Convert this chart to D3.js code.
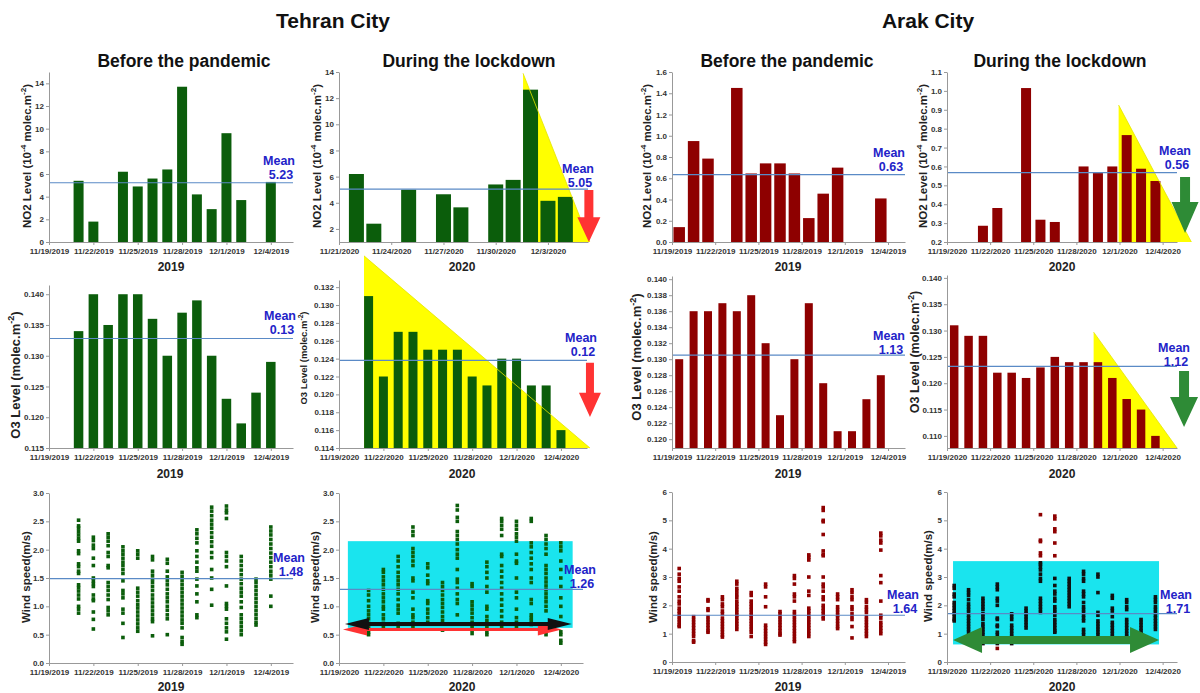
<!DOCTYPE html>
<html>
<head>
<meta charset="utf-8">
<script src="https://cdn.jsdelivr.net/npm/d3@7"></script>
<style>
  body { margin: 0; background: #fff; }
  svg { font-family: "Liberation Sans", Arial, sans-serif; font-weight: bold; }
</style>
</head>
<body>
<script>
// ---- tick labels ----
var dates19 = ["11/19/2019", "11/22/2019", "11/25/2019", "11/28/2019", "12/1/2019", "12/4/2019"];
var dates20 = ["11/19/2020", "11/22/2020", "11/25/2020", "11/28/2020", "12/1/2020", "12/4/2020"];
var dates20b = ["11/21/2020", "11/24/2020", "11/27/2020", "11/30/2020", "12/3/2020"];

var ticksNo2Teh19 = [0, 2, 4, 6, 8, 10, 12, 14];
var ticksNo2Teh20 = [2, 4, 6, 8, 10, 12, 14];
var ticksNo2Ark19 = [0, 0.2, 0.4, 0.6, 0.8, 1.0, 1.2, 1.4, 1.6];
var ticksNo2Ark20 = [0.2, 0.3, 0.4, 0.5, 0.6, 0.7, 0.8, 0.9, 1.0, 1.1];
var ticksO3Teh19 = [0.115, 0.120, 0.125, 0.130, 0.135, 0.140];
var ticksO3Teh20 = [0.114, 0.116, 0.118, 0.120, 0.122, 0.124, 0.126, 0.128, 0.130, 0.132];
var ticksO3Ark19 = [0.120, 0.122, 0.124, 0.126, 0.128, 0.130, 0.132, 0.134, 0.136, 0.138, 0.140];
var ticksO3Ark20 = [0.110, 0.115, 0.120, 0.125, 0.130, 0.135, 0.140];
var ticksWindTeh = [0, 0.5, 1.0, 1.5, 2.0, 2.5, 3.0];
var ticksWindArk = [0, 1, 2, 3, 4, 5, 6];

// ---- bar values, one slot per day (null = no data) ----
var no2Teh19 = [null, null, 5.4, 1.8, null, 6.2, 4.9, 5.6, 6.4, 13.7, 4.2, 2.9, 9.6, 3.7, null, 5.3];
var no2Teh20 = [null, 6.2, 2.4, null, 5.0, null, 4.65, 3.65, null, 5.4, 5.75, 12.65, 4.15, 4.45];
var no2Ark19 = [0.14, 0.95, 0.785, null, 1.45, 0.645, 0.74, 0.74, 0.645, 0.225, 0.455, 0.70, null, null, 0.41];
var no2Ark20 = [null, null, 0.286, 0.38, null, 1.015, 0.318, 0.306, null, 0.60, 0.565, 0.60, 0.766, 0.588, 0.523];
var o3Teh19 = [null, null, 0.134, 0.140, 0.135, 0.140, 0.140, 0.136, 0.130, 0.137, 0.139, 0.130, 0.123, 0.119, 0.124, 0.129];
var o3Teh20 = [null, null, 0.131, 0.122, 0.127, 0.127, 0.125, 0.125, 0.125, 0.122, 0.121, 0.124, 0.124, 0.121, 0.121, 0.116];
var o3Ark19 = [0.130, 0.136, 0.136, 0.137, 0.136, 0.138, 0.132, 0.123, 0.130, 0.137, 0.127, 0.121, 0.121, 0.125, 0.128];
var o3Ark20 = [0.131, 0.129, 0.129, 0.122, 0.122, 0.121, 0.123, 0.125, 0.124, 0.124, 0.124, 0.121, 0.117, 0.115, 0.110];

// ---- wind speed readings per day ----
var windDaysTeh = [2, 3, 4, 5, 6, 7, 8, 9, 10, 11, 12, 13, 14, 15];
var windDaysArk = [0.5, 1.5, 2.5, 3.5, 4.5, 5.5, 6.5, 7.5, 8.5, 9.5, 10.5, 11.5, 12.5, 13.5, 14.5];

var windTeh19 = [
  [2.52, 2.42, 2.38, 2.32, 2.26, 2.2, 2.15, 1.98, 1.93, 1.75, 1.7, 1.62, 1.58, 1.38, 1.33, 1.27, 1.2, 1.13, 1.0, 0.95, 0.88],
  [2.22, 2.16, 2.08, 2.02, 1.85, 1.72, 1.5, 1.45, 1.4, 1.35, 1.2, 1.13, 1.1, 0.9, 0.77, 0.6],
  [2.28, 2.22, 2.15, 2.07, 1.95, 1.88, 1.72, 1.68, 1.42, 1.35, 1.28, 1.2, 1.12, 0.98, 0.92, 0.85],
  [2.05, 1.98, 1.92, 1.85, 1.78, 1.72, 1.65, 1.58, 1.45, 1.28, 1.22, 1.15, 0.95, 0.88, 0.7, 0.45],
  [1.98, 1.92, 1.85, 1.32, 1.25, 1.18, 1.1, 1.03, 0.97, 0.9, 0.83, 0.76, 0.69, 0.62, 0.56],
  [1.88, 1.82, 1.62, 1.55, 1.48, 1.42, 1.35, 1.28, 1.2, 1.13, 1.06, 0.99, 0.92, 0.85, 0.78, 0.73, 0.48],
  [1.83, 1.76, 1.62, 1.52, 1.45, 1.38, 1.3, 1.22, 1.15, 1.08, 1.0, 0.93, 0.85, 0.78, 0.5],
  [1.6, 1.53, 1.46, 1.39, 1.32, 1.25, 1.18, 1.11, 1.04, 0.97, 0.9, 0.83, 0.76, 0.7, 0.62, 0.45, 0.38, 0.33],
  [2.35, 2.28, 2.2, 2.12, 1.98, 1.88, 1.78, 1.68, 1.62, 1.48, 1.36, 1.22, 1.08, 0.85, 0.8],
  [2.75, 2.68, 2.6, 2.52, 2.45, 2.38, 2.3, 2.22, 2.14, 2.06, 1.95, 1.86, 1.65, 1.5, 1.3, 1.02],
  [2.77, 2.7, 2.65, 2.55, 1.95, 1.88, 1.8, 1.7, 1.36, 1.05, 1.0, 0.95, 0.78, 0.7, 0.62, 0.55, 0.42],
  [1.88, 1.8, 1.72, 1.64, 1.56, 1.48, 1.4, 1.32, 1.25, 1.18, 1.08, 0.98, 0.85, 0.78, 0.71, 0.64, 0.57, 0.5],
  [1.48, 1.42, 1.35, 1.28, 1.21, 1.14, 1.07, 1.0, 0.93, 0.86, 0.79, 0.72, 0.67],
  [2.4, 2.33, 2.26, 2.18, 2.1, 2.02, 1.94, 1.86, 1.78, 1.7, 1.62, 1.55, 1.48, 1.18, 1.0]
];
var windTeh20 = [
  [1.28, 1.2, 1.1, 1.0, 0.92, 0.85, 0.78, 0.7, 0.62, 0.55, 0.5],
  [1.65, 1.6, 1.52, 1.45, 1.38, 1.3, 1.22, 1.15, 1.08, 1.0, 0.95, 0.85, 0.78, 0.7, 0.65],
  [1.88, 1.8, 1.7, 1.6, 1.52, 1.45, 1.38, 1.3, 1.22, 1.12, 1.02, 0.95, 0.88, 0.7, 0.65],
  [2.4, 2.32, 2.25, 2.02, 1.95, 1.88, 1.8, 1.72, 1.5, 1.45, 1.25, 1.15, 0.95, 0.85, 0.8, 0.72, 0.65],
  [1.75, 1.68, 1.55, 1.45, 1.4, 1.1, 1.05, 0.95, 0.88, 0.8, 0.72],
  [1.42, 1.35, 1.28, 1.2, 1.12, 1.05, 0.98, 0.9, 0.82, 0.75, 0.58],
  [2.78, 2.7, 2.57, 2.5, 2.32, 2.25, 2.18, 2.1, 2.0, 1.92, 1.85, 1.65, 1.48, 1.42, 1.32, 1.22, 1.12, 1.05, 0.85],
  [1.4, 1.35, 1.08, 1.02, 0.95, 0.88, 0.8, 0.72, 0.65, 0.58, 0.52],
  [1.78, 1.7, 1.6, 1.5, 1.35, 1.25, 1.0, 0.95, 0.82, 0.75, 0.68, 0.62, 0.55, 0.5],
  [2.55, 2.5, 2.43, 2.36, 2.25, 1.92, 1.88, 1.72, 1.62, 1.52, 1.42, 1.32, 1.22, 1.12, 1.02, 0.92, 0.82, 0.72, 0.65],
  [2.5, 2.43, 2.36, 2.28, 2.22, 2.15, 1.92, 1.8, 1.76, 1.5, 1.25, 1.15, 0.95, 0.8, 0.72, 0.65],
  [2.55, 2.5, 2.12, 2.05, 1.95, 1.85, 1.75, 1.65, 1.5, 1.42, 1.12, 1.05, 0.85, 0.8, 0.75, 0.68],
  [2.25, 2.18, 2.1, 2.02, 1.92, 1.72, 1.65, 1.58, 1.5, 1.43, 1.36, 1.29, 1.22, 1.15, 1.08, 1.0, 0.92, 0.5],
  [2.12, 2.05, 1.98, 1.8, 1.65, 1.5, 1.35, 1.15, 1.0, 0.82, 0.55, 0.5, 0.4, 0.35]
];
var windArk19 = [
  [3.3, 3.1, 2.95, 2.85, 2.65, 2.5, 2.3, 2.15, 2.05, 1.9, 1.8, 1.7, 1.6, 1.5, 1.4, 1.3, 1.25],
  [1.6, 1.5, 1.4, 1.3, 1.2, 1.1, 1.0, 0.9, 0.75, 0.7],
  [2.2, 2.15, 1.88, 1.82, 1.6, 1.5, 1.4, 1.3, 1.2, 1.1, 1.05],
  [2.3, 2.2, 2.05, 1.95, 1.8, 1.7, 1.55, 1.45, 1.35, 1.25, 1.15, 1.05, 0.95, 0.88],
  [2.85, 2.75, 2.6, 2.5, 2.38, 2.28, 2.15, 2.05, 1.95, 1.85, 1.75, 1.65, 1.55, 1.45, 1.35, 1.25, 1.15],
  [2.45, 2.35, 2.15, 2.05, 1.95, 1.85, 1.75, 1.65, 1.55, 1.45, 1.35, 1.25, 1.15, 1.05, 0.9],
  [2.75, 2.65, 2.3, 1.95, 1.3, 1.2, 1.1, 1.0, 0.9, 0.8, 0.7, 0.62],
  [1.78, 1.7, 1.6, 1.5, 1.4, 1.3, 1.2, 1.1, 1.0, 0.95],
  [3.05, 2.95, 2.75, 2.4, 2.3, 2.15, 1.78, 1.68, 1.6, 1.5, 1.4, 1.3, 1.2, 1.1, 1.0, 0.9, 0.8, 0.72],
  [3.78, 3.7, 3.6, 3.0, 2.5, 2.35, 1.9, 1.8, 1.7, 1.6, 1.5, 1.4, 1.3, 1.2, 1.1, 1.0, 0.9],
  [5.45, 5.35, 5.0, 4.95, 4.5, 3.92, 3.8, 3.75, 3.0, 2.75, 2.65, 2.5, 2.3, 2.2, 2.0, 1.9, 1.8, 1.7, 1.6, 1.52],
  [2.4, 2.3, 2.2, 1.95, 1.85, 1.75, 1.65, 1.55, 1.45, 1.35, 1.25, 1.18],
  [2.55, 2.45, 2.3, 2.2, 1.95, 1.85, 1.7, 1.6, 1.5, 1.25, 0.85],
  [2.2, 2.1, 1.95, 1.85, 1.75, 1.6, 1.5, 1.4, 1.3, 1.2, 1.1, 1.0, 0.9],
  [4.55, 4.45, 4.3, 4.2, 3.95, 3.05, 2.8, 2.15, 1.65, 1.55, 1.4, 1.3, 1.2, 1.1, 1.0]
];
var windArk20 = [
  [2.7, 2.6, 2.4, 2.3, 2.1, 2.0, 1.9, 1.8, 1.7, 1.6, 1.5, 1.45],
  [2.55, 2.45, 2.35, 2.2, 2.05, 1.95, 1.85, 1.75, 1.65, 1.55, 1.45, 1.35, 1.25, 1.15, 1.05],
  [2.25, 2.15, 2.05, 1.95, 1.85, 1.7, 1.6, 1.5, 1.35, 1.25, 1.15, 1.05, 0.95, 0.85, 0.75, 0.65],
  [2.75, 2.65, 2.55, 2.25, 2.15, 2.0, 1.55, 1.5, 1.3, 1.25, 1.05, 0.95, 0.85, 0.75, 0.65, 0.48],
  [1.7, 1.6, 1.5, 1.3, 1.2, 1.1, 1.0, 0.9, 0.8, 0.7, 0.65],
  [1.9, 1.8, 1.7, 1.6, 1.5, 1.4, 1.3, 1.2],
  [5.2, 4.3, 4.25, 3.85, 3.75, 3.5, 3.45, 3.35, 3.25, 3.1, 2.95, 2.85, 2.25, 2.15, 2.05, 1.95, 1.85, 1.75],
  [5.15, 5.05, 4.7, 4.6, 4.2, 3.75, 2.95, 2.7, 2.5, 2.4, 2.25, 2.15, 1.95, 1.85, 1.75, 1.65, 1.5, 1.4, 1.3, 1.2, 1.1, 1.05],
  [2.95, 2.85, 2.75, 2.65, 2.55, 2.45, 2.35, 2.25, 2.15, 2.05, 1.95],
  [3.2, 3.1, 2.95, 2.85, 2.5, 2.4, 2.3, 2.1, 1.95, 1.85, 1.75, 1.65, 1.55, 1.45, 1.15, 1.05, 0.95, 0.85],
  [3.1, 3.0, 2.45, 1.75, 1.65, 1.45, 1.35, 1.25, 1.15, 1.05, 0.95],
  [2.35, 2.25, 1.9, 1.8, 1.6, 1.4, 1.3, 1.2, 1.1, 1.0, 0.9],
  [2.2, 2.1, 1.95, 1.85, 1.5, 1.4, 1.3, 1.2, 1.1, 1.0, 0.9],
  [1.5, 1.4, 1.3, 1.2, 1.1, 1.0, 0.9, 0.8, 0.7],
  [2.3, 2.2, 2.1, 1.95, 1.85, 1.75, 1.65, 1.55, 1.45, 1.35, 1.25, 1.15]
];

// ---- means (line level and printed label) ----
var meanLevels = [5.23, 5.05, 0.634, 0.567, 0.1328, 0.1238, 0.1305, 0.1232, 1.49, 1.3, 1.65, 1.71];
var meanLabels = ["5.23", "5.05", "0.63", "0.56", "0.13", "0.12", "1.13", "1.12", "1.48", "1.26", "1.64", "1.71"];

var GREEN = "#0b5d0b", DARKRED = "#8e0000", MEANLINE = "#5a8ac6", MEANTEXT = "#2323c8";
var YELLOW = "#ffff00", CYAN = "#1ae4ee";

var svg = d3.select("body").append("svg").attr("width", 1200).attr("height", 693);
svg.append("rect").attr("width", 1200).attr("height", 693).attr("fill", "#fff");

function downArrow(cx, yt, yh, yp, s, h) {
  return "M" + (cx - s / 2) + "," + yt + "L" + (cx + s / 2) + "," + yt + "L" + (cx + s / 2) + "," + yh +
    "L" + (cx + h / 2) + "," + yh + "L" + cx + "," + yp + "L" + (cx - h / 2) + "," + yh +
    "L" + (cx - s / 2) + "," + yh + "Z";
}
function doubleArrow(xa, xb, yc, s, L, H) {
  return "M" + xa + "," + yc + "L" + (xa + L) + "," + (yc - H) + "L" + (xa + L) + "," + (yc - s / 2) +
    "L" + (xb - L) + "," + (yc - s / 2) + "L" + (xb - L) + "," + (yc - H) + "L" + xb + "," + yc +
    "L" + (xb - L) + "," + (yc + H) + "L" + (xb - L) + "," + (yc + s / 2) + "L" + (xa + L) + "," + (yc + s / 2) +
    "L" + (xa + L) + "," + (yc + H) + "Z";
}

function yTitle(kind, x, y, size) {
  var t = svg.append("text").attr("transform", "translate(" + x + "," + y + ") rotate(-90)")
    .attr("text-anchor", "middle").attr("font-size", size).attr("fill", "#222");
  if (kind == "wind") { t.text("Wind speed(m/s)"); return; }
  if (kind == "no2") {
    t.append("tspan").text("NO2 Level (10");
    t.append("tspan").attr("dy", -size * 0.4).attr("font-size", size * 0.7).text("-4");
    t.append("tspan").attr("dy", size * 0.4).text(" molec.m");
  } else {
    t.append("tspan").text("O3 Level (molec.m");
  }
  t.append("tspan").attr("dy", -size * 0.4).attr("font-size", size * 0.7).text("-2");
  t.append("tspan").attr("dy", size * 0.4).text(")");
}

function drawPanel(p, idx) {
  var x = d3.scaleLinear().domain([0, p.days]).range([p.left, p.right]);
  var y = d3.scaleLinear().domain(p.yDomain).range([p.bottom, p.top]);
  var g = svg.append("g");

  if (p.band) {
    g.append("rect").attr("x", x(p.band.x0)).attr("width", x(p.band.x1) - x(p.band.x0))
      .attr("y", y(p.band.hi)).attr("height", y(p.band.lo) - y(p.band.hi)).attr("fill", CYAN);
  }
  if (p.tri) {
    g.append("path").attr("d", d3.line()(p.tri.map(function (d) { return [x(d[0]), y(d[1])]; })) + "Z")
      .attr("fill", YELLOW);
  }

  if (p.bars) {
    var bars = p.bars.map(function (v, i) { return { day: i + p.offset, v: v }; })
      .filter(function (d) { return d.v != null; });
    g.selectAll(null).data(bars).enter().append("rect")
      .attr("x", function (d) { return x(d.day) - p.barW / 2; })
      .attr("width", p.barW)
      .attr("y", function (d) { return y(d.v); })
      .attr("height", function (d) { return y(p.yDomain[0]) - y(d.v); })
      .attr("fill", p.color);
  }

  if (p.cols) {
    var pts = [];
    p.cols.forEach(function (c, i) {
      c.forEach(function (v) { pts.push({ day: p.colDays[i], v: v }); });
    });
    g.selectAll(null).data(pts).enter().append("rect")
      .attr("x", function (d) { return x(d.day) - 1.8; })
      .attr("y", function (d) { return y(d.v) - 1.8; })
      .attr("width", 3.6).attr("height", 3.6)
      .attr("fill", function (d) {
        if (p.inColor && d.v >= p.band.lo && d.v <= p.band.hi) return p.inColor;
        return p.color;
      });
  }

  if (p.tri) {
    g.append("line").attr("x1", x(p.tri[0][0])).attr("y1", y(p.tri[0][1]))
      .attr("x2", x(p.tri[2][0])).attr("y2", y(p.tri[2][1]))
      .attr("stroke", "#e6e600").attr("stroke-width", 1).attr("opacity", 0.8);
  }

  // mean line
  g.append("line").attr("x1", p.left).attr("x2", p.right)
    .attr("y1", y(meanLevels[idx])).attr("y2", y(meanLevels[idx]))
    .attr("stroke", MEANLINE).attr("stroke-width", 1.2);

  // axes
  var ya = g.append("g").attr("transform", "translate(" + p.left + ",0)")
    .call(d3.axisLeft(y).tickValues(p.yTicks).tickFormat(d3.format(p.yFmt)).tickSize(3).tickSizeOuter(0).tickPadding(2));
  var xa = g.append("g").attr("transform", "translate(0," + p.bottom + ")")
    .call(d3.axisBottom(x).tickValues(p.dates.map(function (d, i) { return i * 3; }))
      .tickFormat(function (d, i) { return p.dates[i]; }).tickSize(3).tickSizeOuter(0).tickPadding(3));
  [ya, xa].forEach(function (a) {
    a.attr("font-family", null).attr("font-size", 8).attr("font-weight", "bold");
    a.selectAll("path, line").attr("stroke", "#999");
    a.selectAll("text").attr("fill", "#333");
  });

  if (p.dbl) {
    p.dbl.forEach(function (a) {
      g.append("path").attr("d", doubleArrow(x(a.x0), x(a.x1), y(a.v), a.s, a.L, a.H)).attr("fill", a.color);
    });
  }
  if (p.down) {
    var a = p.down;
    g.append("path").attr("d", downArrow(x(a.day), y(a.top), y(a.head), y(a.tip), a.s, a.h)).attr("fill", a.color);
  }

  // labels
  var m = g.append("text").attr("text-anchor", "middle").attr("font-size", 12.5).attr("fill", MEANTEXT);
  m.append("tspan").attr("x", p.meanX).attr("y", p.meanY + 4.5).text("Mean");
  m.append("tspan").attr("x", p.meanX + 2).attr("y", p.meanY + 18.5).text(meanLabels[idx]);

  svg.append("text").attr("x", p.yearX).attr("y", p.yearY).attr("text-anchor", "middle")
    .attr("font-size", 12).attr("fill", "#222").text(p.year);
  yTitle(p.kind, p.titleX, p.titleY, p.titleSize);
}

var panels = [
  { left: 49, right: 293, top: 72, bottom: 242, days: 16.5, yDomain: [0, 15], yTicks: ticksNo2Teh19, yFmt: "d",
    dates: dates19, bars: no2Teh19, offset: 0, barW: 10, color: GREEN, kind: "no2", titleX: 31, titleY: 156, titleSize: 11.5,
    meanX: 279, meanY: 160, year: "2019", yearX: 171, yearY: 271 },
  { left: 339, right: 588, top: 72, bottom: 242, days: 14.3, yDomain: [1, 14], yTicks: ticksNo2Teh20, yFmt: "d",
    dates: dates20b, bars: no2Teh20, offset: 0, barW: 15, color: GREEN, kind: "no2", titleX: 321, titleY: 156, titleSize: 11.5,
    tri: [[10.57, 13.9], [10.57, 1], [14.4, 1]],
    down: { day: 14.35, top: 4.98, head: 2.9, tip: 1.0, s: 9, h: 23, color: "#ff3333" },
    meanX: 578, meanY: 168, year: "2020", yearX: 462, yearY: 271 },
  { left: 672, right: 905, top: 72, bottom: 242, days: 16.18, yDomain: [0, 1.6], yTicks: ticksNo2Ark19, yFmt: ".1f",
    dates: dates19, bars: no2Ark19, offset: 0.5, barW: 11.5, color: DARKRED, kind: "no2", titleX: 651, titleY: 156, titleSize: 11.5,
    meanX: 889, meanY: 152, year: "2019", yearX: 788, yearY: 271 },
  { left: 947, right: 1177, top: 72, bottom: 242, days: 16, yDomain: [0.2, 1.1], yTicks: ticksNo2Ark20, yFmt: ".1f",
    dates: dates20, bars: no2Ark20, offset: 0.5, barW: 10, color: DARKRED, kind: "no2", titleX: 927, titleY: 156, titleSize: 11.5,
    tri: [[11.94, 0.925], [11.94, 0.2], [17.0, 0.2]],
    down: { day: 16.56, top: 0.544, head: 0.412, tip: 0.248, s: 10, h: 27, color: "#2e8b36" },
    meanX: 1175, meanY: 150, year: "2020", yearX: 1062, yearY: 271 },
  { left: 49, right: 293, top: 285, bottom: 448, days: 16.5, yDomain: [0.115, 0.1415], yTicks: ticksO3Teh19, yFmt: ".3f",
    dates: dates19, bars: o3Teh19, offset: 0, barW: 9.5, color: GREEN, kind: "o3", titleX: 19.5, titleY: 375, titleSize: 13,
    meanX: 280, meanY: 315, year: "2019", yearX: 170, yearY: 478 },
  { left: 339, right: 587, top: 280, bottom: 448, days: 16.76, yDomain: [0.114, 0.1328], yTicks: ticksO3Teh20, yFmt: ".3f",
    dates: dates20, bars: o3Teh20, offset: 0, barW: 9, color: GREEN, kind: "o3", titleX: 307, titleY: 358, titleSize: 9.5,
    tri: [[1.69, 0.1355], [1.69, 0.114], [16.96, 0.114]],
    down: { day: 16.96, top: 0.12353, head: 0.12017, tip: 0.11748, s: 8, h: 22, color: "#ff3333" },
    meanX: 581, meanY: 337, year: "2020", yearX: 462, yearY: 478 },
  { left: 672, right: 905, top: 276, bottom: 448, days: 16.18, yDomain: [0.1189, 0.1404], yTicks: ticksO3Ark19, yFmt: ".3f",
    dates: dates19, bars: o3Ark19, offset: 0.5, barW: 8, color: DARKRED, kind: "o3", titleX: 641, titleY: 357, titleSize: 13,
    meanX: 889, meanY: 335, year: "2019", yearX: 788, yearY: 478 },
  { left: 947, right: 1177, top: 275, bottom: 448, days: 16, yDomain: [0.1077, 0.14055], yTicks: ticksO3Ark20, yFmt: ".3f",
    dates: dates20, bars: o3Ark20, offset: 0.5, barW: 8.5, color: DARKRED, kind: "o3", titleX: 918.5, titleY: 352, titleSize: 12.5,
    tri: [[10.2, 0.1297], [10.2, 0.1077], [16.0, 0.1077]],
    down: { day: 16.49, top: 0.12232, head: 0.11738, tip: 0.11169, s: 10, h: 28, color: "#2e8b36" },
    meanX: 1174, meanY: 347, year: "2020", yearX: 1062, yearY: 478 },
  { left: 49, right: 293, top: 493, bottom: 663, days: 16.5, yDomain: [0, 3], yTicks: ticksWindTeh, yFmt: ".1f",
    dates: dates19, cols: windTeh19, colDays: windDaysTeh, color: GREEN, kind: "wind", titleX: 30, titleY: 577, titleSize: 11.5,
    meanX: 289, meanY: 557, year: "2019", yearX: 171, yearY: 691 },
  { left: 339, right: 583, top: 493, bottom: 663, days: 16.5, yDomain: [0, 3], yTicks: ticksWindTeh, yFmt: ".1f",
    dates: dates20, cols: windTeh20, colDays: windDaysTeh, color: GREEN, kind: "wind", titleX: 319, titleY: 577, titleSize: 11.5,
    band: { x0: 0.6, x1: 15.8, lo: 0.62, hi: 2.15 },
    dbl: [{ x0: 0.27, x1: 15.07, v: 0.59, s: 3, L: 24, H: 6, color: "#ff3333" },
          { x0: 0.4, x1: 15.74, v: 0.69, s: 4, L: 24, H: 6, color: "#111" }],
    meanX: 580, meanY: 569, year: "2020", yearX: 462, yearY: 691 },
  { left: 672, right: 905, top: 492, bottom: 662, days: 16.18, yDomain: [0, 6], yTicks: ticksWindArk, yFmt: "d",
    dates: dates19, cols: windArk19, colDays: windDaysArk, color: DARKRED, kind: "wind", titleX: 657, titleY: 577, titleSize: 11.5,
    meanX: 903, meanY: 594, year: "2019", yearX: 788, yearY: 691 },
  { left: 947, right: 1177, top: 492, bottom: 662, days: 16, yDomain: [0, 6], yTicks: ticksWindArk, yFmt: "d",
    dates: dates20, cols: windArk20, colDays: windDaysArk, color: DARKRED, inColor: "#111", kind: "wind", titleX: 932, titleY: 576, titleSize: 11.5,
    band: { x0: 0.42, x1: 14.75, lo: 0.62, hi: 3.56 },
    dbl: [{ x0: 0.42, x1: 14.75, v: 0.78, s: 8, L: 29, H: 13, color: "#2e8b36" }],
    meanX: 1176, meanY: 594, year: "2020", yearX: 1062, yearY: 691 }
];

panels.forEach(drawPanel);

// headings
var heads = [
  { t: "Tehran City", x: 333, y: 28, s: 21 },
  { t: "Arak City", x: 928, y: 28, s: 21 },
  { t: "Before the pandemic", x: 184, y: 67, s: 17.5 },
  { t: "During the lockdown", x: 469, y: 67, s: 17.5 },
  { t: "Before the pandemic", x: 787, y: 67, s: 17.5 },
  { t: "During the lockdown", x: 1060, y: 67, s: 17.5 }
];
svg.selectAll(null).data(heads).enter().append("text")
  .attr("x", function (d) { return d.x; }).attr("y", function (d) { return d.y; })
  .attr("text-anchor", "middle").attr("font-size", function (d) { return d.s; })
  .attr("fill", "#111").text(function (d) { return d.t; });
</script>
</body>
</html>
